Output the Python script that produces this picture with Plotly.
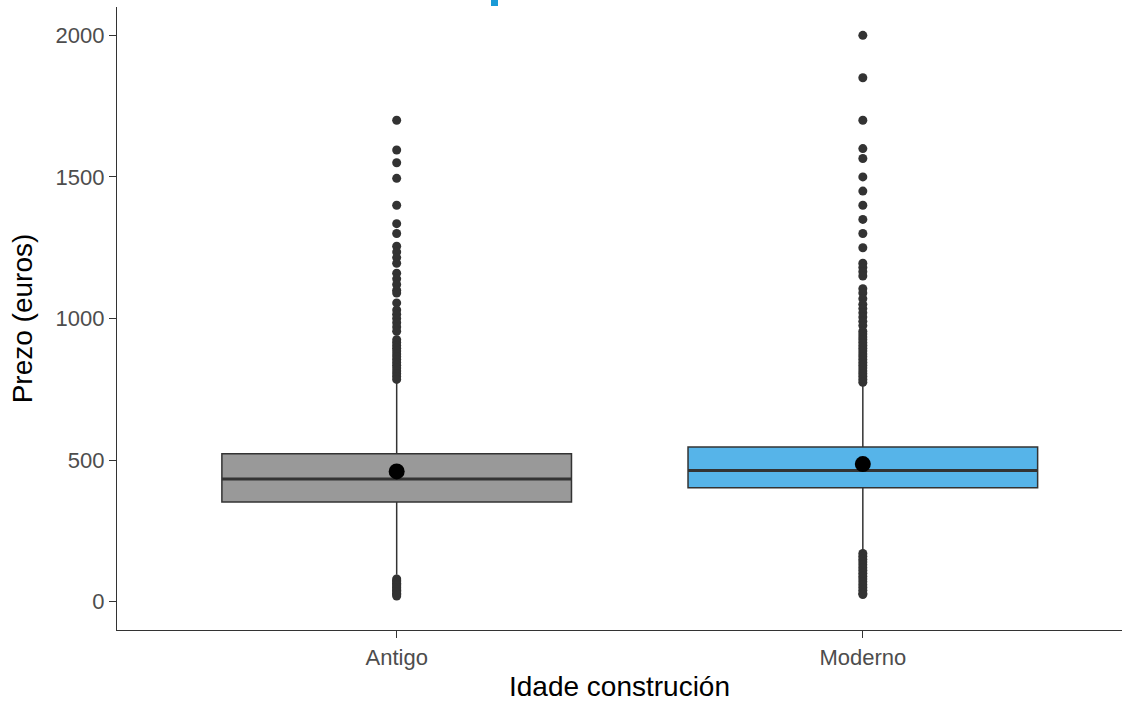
import plotly.graph_objects as go

# Price of dwellings by construction age
categories = ["Antigo", "Moderno"]
positions = [1, 2]
fill_colors = ["#999999", "#56B4E9"]

q1 = [352, 402]
median = [433, 463]
q3 = [522, 546]
lower_whisker = [95, 180]
upper_whisker = [775, 762]
means = [460, 486]

outliers_antigo = [
    1700, 1595, 1550, 1495, 1400, 1335, 1300, 1255, 1235, 1215, 1195,
    1160, 1140, 1120, 1100, 1090, 1055, 1030, 1015, 1000, 985, 970, 955,
    925, 915, 905, 895, 885, 875, 865, 855, 845, 835, 825, 815, 805, 795, 785,
    80, 75, 70, 65, 60, 55, 50, 45, 40, 35, 30, 25, 20,
]
outliers_moderno = [
    2000, 1850, 1700, 1600, 1565, 1500, 1450, 1400, 1350, 1300, 1250,
    1195, 1180, 1165, 1150, 1105, 1090, 1070, 1050, 1035, 1020, 1005, 990,
    975, 955, 945, 935, 925, 915, 905, 895, 885, 875, 865, 855, 845, 835,
    825, 815, 805, 795, 785, 775,
    170, 160, 150, 140, 130, 120, 110, 100, 90, 80, 70, 60, 50, 40, 30, 25,
]
outliers = [outliers_antigo, outliers_moderno]

box_width = 0.75
dark = "#333333"

fig = go.Figure()

for i, name in enumerate(categories):
    x0 = positions[i]
    fig.add_trace(go.Box(
        x=[x0], q1=[q1[i]], median=[median[i]], q3=[q3[i]],
        lowerfence=[lower_whisker[i]], upperfence=[upper_whisker[i]],
        width=box_width, fillcolor=fill_colors[i],
        line=dict(color=dark, width=1.5), whiskerwidth=0,
        boxpoints=False, showlegend=False, hoverinfo="skip",
    ))
    # thicker median bar
    fig.add_trace(go.Scatter(
        x=[x0 - box_width / 2, x0 + box_width / 2], y=[median[i], median[i]],
        mode="lines", line=dict(color=dark, width=3),
        showlegend=False, hoverinfo="skip",
    ))
    fig.add_trace(go.Scatter(
        x=[x0] * len(outliers[i]), y=outliers[i], mode="markers",
        marker=dict(color=dark, size=9, line=dict(width=0)),
        showlegend=False, hoverinfo="skip",
    ))

# group means
fig.add_trace(go.Scatter(
    x=positions, y=means, mode="markers",
    marker=dict(color="#000000", size=16, line=dict(width=0)),
    showlegend=False, hoverinfo="skip",
))

family = "Liberation Sans, Arial, sans-serif"
tick_font = dict(family=family, size=22, color="#4D4D4D")
title_font = dict(family=family, size=28, color="#000000")

fig.update_layout(
    width=1122, height=702,
    margin=dict(l=117, r=0, t=7, b=72),
    paper_bgcolor="white", plot_bgcolor="white",
    shapes=[dict(type="rect", xref="paper", yref="paper",
                 x0=(491 - 117) / 1005, x1=(498 - 117) / 1005,
                 y0=1 + 1 / 623, y1=1 + 8 / 623,
                 fillcolor="#1A9AD6", line=dict(width=0), layer="above")],
)
fig.update_xaxes(
    range=[0.4, 2.556], tickvals=positions, ticktext=categories,
    showgrid=False, zeroline=False, showline=True, linecolor=dark, linewidth=1.3,
    ticks="outside", ticklen=7, tickcolor=dark, tickwidth=1.3,
    tickfont=tick_font, automargin=False,
    title=dict(text="Idade construción", font=title_font, standoff=9),
)
fig.update_yaxes(
    range=[-100, 2100], tickvals=[0, 500, 1000, 1500, 2000],
    showgrid=False, zeroline=False, showline=True, linecolor=dark, linewidth=1.3,
    ticks="outside", ticklen=7, tickcolor=dark, tickwidth=1.3,
    tickfont=tick_font, automargin=False,
    title=dict(text="Prezo (euros)", font=title_font, standoff=14),
)

fig.write_html("out.html")
